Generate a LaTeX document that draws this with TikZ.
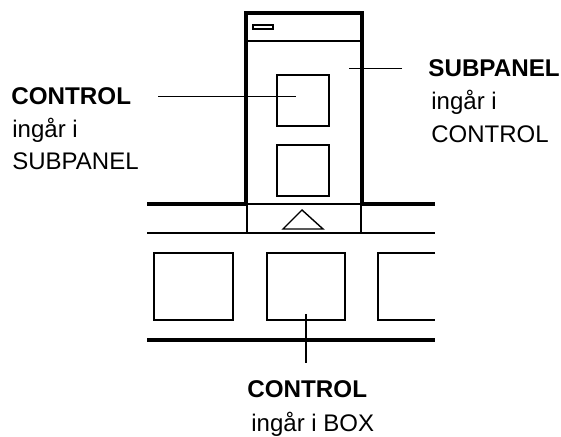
\documentclass[tikz,border=0pt]{standalone}
\usepackage{fontspec}
\setmainfont{Liberation Sans}
\usepackage{tikz}
\usetikzlibrary{positioning,calc}
\tikzset{
  thinline/.style={draw=black, line width=0.7pt},
  thickline/.style={draw=black, line width=1.6pt},
  lead/.style={draw=black, line width=0.7pt},
  headtxt/.style={anchor=base west, inner sep=0pt, font=\fontsize{12.1}{14}\selectfont\bfseries},
  bodytxt/.style={anchor=base west, inner sep=0pt, font=\fontsize{12}{14}\selectfont}
}

\begin{document}
\begin{tikzpicture}[x=0.5pt,y=-0.5pt]
  \useasboundingbox (0,0) rectangle (561,437);
  % subpanel window
  \draw[thickline] (147,204) -- (246,204) -- (246,13) -- (362,13) -- (362,204) -- (435,204);
  \draw[thinline] (246,41) -- (362,41);
  \draw[thinline] (253,25) rectangle (273,29);
  \draw[thinline] (277,75) rectangle (329,126);
  \draw[thinline] (277,145) rectangle (329,196);
  % box strip
  \draw[thinline] (246,204) -- (362,204);
  \draw[thinline] (247,204) -- (247,233);
  \draw[thinline] (361,204) -- (361,233);
  \draw[thinline] (147,233) -- (435,233);
  \draw[thinline] (283,229) -- (302,210) -- (323,229) -- cycle;
  \draw[thinline] (154,253) rectangle (233,320);
  \draw[thinline] (267,253) rectangle (345,320);
  \draw[thinline] (435,253) -- (378,253) -- (378,320) -- (435,320);
  \draw[thickline] (147,340) -- (435,340);
  % labels
  \node[headtxt] (ctrlhead) at (11,105) {CONTROL};
  \node[bodytxt] (ctrlmid) at (12,138) {ingår i};
  \node[bodytxt] (ctrlend) at (12,170) {SUBPANEL};
  \node[headtxt] (subhead) at (428,77) {SUBPANEL};
  \node[bodytxt] (submid) at (431,110) {ingår i};
  \node[bodytxt] (subend) at (431,143) {CONTROL};
  \node[headtxt] (boxhead) at (247,398) {CONTROL};
  \node[bodytxt] (boxend) at (251,431) {ingår i BOX};
  % leaders
  \coordinate (inA) at (296,96);
  \coordinate (inB) at (349,71);
  \coordinate (inC) at (306,314);
  \draw[lead] (ctrlhead.east -| 158,0) -- (ctrlhead.east -| inA);
  \draw[lead] ([xshift=-13pt]subhead.west) -- (subhead.west -| inB);
  \draw[lead] (inC) -- ([yshift=9pt]boxhead.north -| inC);
\end{tikzpicture}
\end{document}
